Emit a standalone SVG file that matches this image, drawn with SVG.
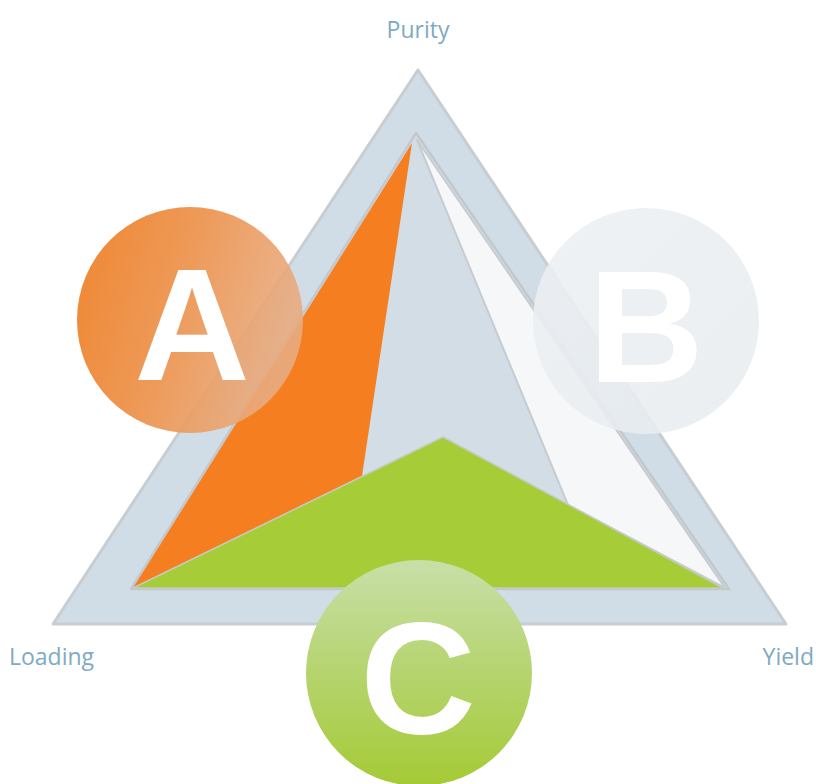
<svg xmlns="http://www.w3.org/2000/svg" width="816" height="784" viewBox="0 0 816 784">
  <style>
    .axis { font-family: "Open Sans", "Noto Sans", sans-serif; font-size: 23px; fill: #7eaac3; }
    .letter { font-family: "Liberation Sans", Arial, sans-serif; font-weight: bold; font-size: 160px; fill: #ffffff; text-anchor: middle; }
    .edge { stroke-linejoin: round; }
  </style>
  <defs>
    <linearGradient id="gradA" x1="0" y1="0" x2="1" y2="0.3">
      <stop offset="0" stop-color="#ef8630"/>
      <stop offset="0.5" stop-color="#ed9550" stop-opacity="0.96"/>
      <stop offset="1" stop-color="#e8ab80" stop-opacity="0.9"/>
    </linearGradient>
    <linearGradient id="gradB" x1="0" y1="0" x2="1" y2="1">
      <stop offset="0" stop-color="#edf0f3"/>
      <stop offset="1" stop-color="#e8ecf0"/>
    </linearGradient>
    <linearGradient id="gradC" x1="0" y1="0" x2="0" y2="1">
      <stop offset="0" stop-color="#c9dfa9"/>
      <stop offset="0.5" stop-color="#b5d46e"/>
      <stop offset="1" stop-color="#a5ca36"/>
    </linearGradient>
  </defs>

  <!-- triangle frame and filled regions -->
  <g id="triangle">
    <polygon class="edge" points="53,624 418,70 786,624" fill="#d0dce6" stroke="#c8cdd2" stroke-width="3"/>
    <polygon class="edge" points="131,589 416,133 729,589" fill="#d3dde6" stroke="#c3c8cc" stroke-width="2.5"/>
    <polygon class="edge" points="417,140 725,588 568,505" fill="#f5f7f9" stroke="#c6ccd1" stroke-width="2"/>
    <polygon class="edge" points="133,588 412,143 362,476" fill="#f47e20"/>
    <polygon class="edge" points="133,588 443,437 723,588" fill="#a6cc38" stroke="#c4cbbf" stroke-width="1.5"/>
  </g>

  <!-- axis labels -->
  <g id="label-purity"><text class="axis" x="418" y="38" text-anchor="middle">Purity</text></g>
  <g id="label-loading"><text class="axis" x="9" y="665">Loading</text></g>
  <g id="label-yield"><text class="axis" x="814" y="665" text-anchor="end">Yield</text></g>

  <!-- lettered badges -->
  <g id="node-a">
    <circle cx="190" cy="320" r="113" fill="url(#gradA)"/>
    <text class="letter" x="192" y="380">A</text>
  </g>
  <g id="node-b">
    <circle cx="646" cy="321" r="113" fill="url(#gradB)" fill-opacity="0.88"/>
    <text class="letter" x="646" y="382">B</text>
  </g>
  <g id="node-c">
    <circle cx="419" cy="673" r="113" fill="url(#gradC)"/>
    <text class="letter" x="418" y="733">C</text>
  </g>
</svg>
